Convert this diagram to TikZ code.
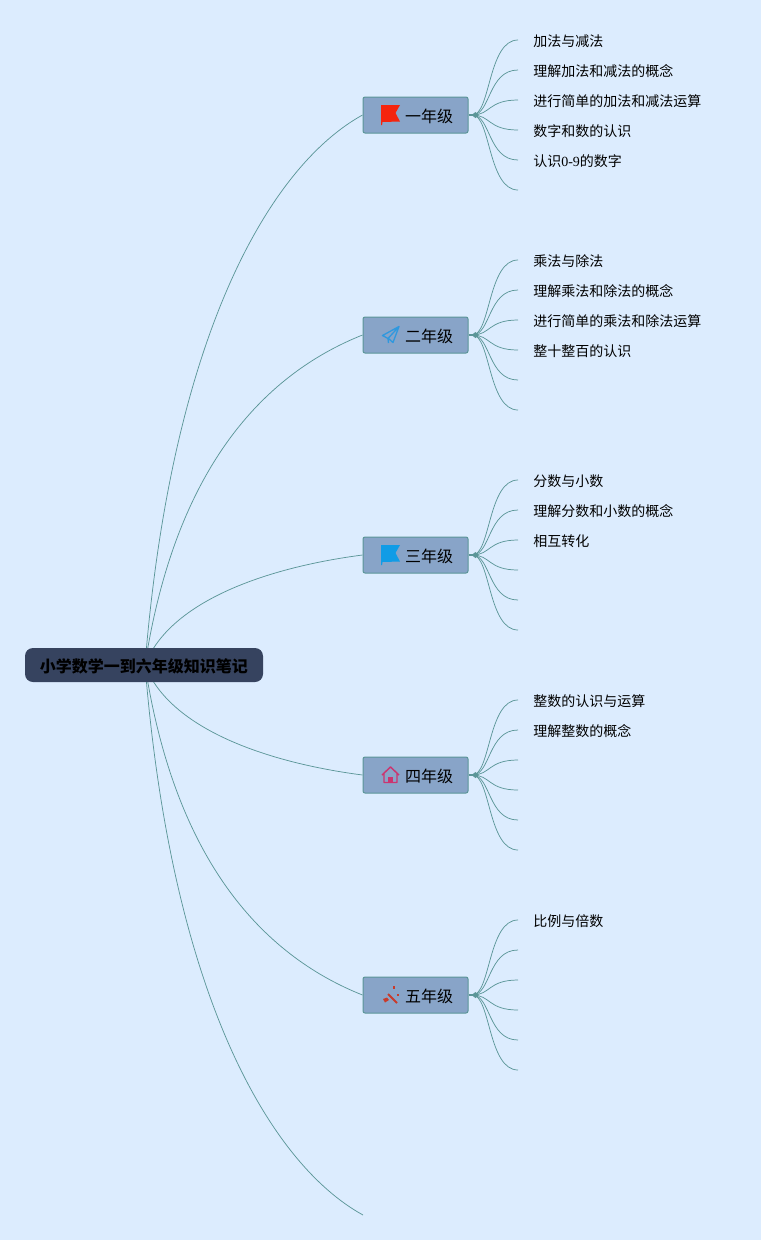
\documentclass[tikz,border=0pt]{standalone}
\usepackage{fontspec}
\setmainfont{Liberation Serif}
\newfontfamily\cjk{Noto Sans CJK SC}
\definecolor{bgc}{HTML}{DCECFE}
\definecolor{edgec}{HTML}{5B9698}
\definecolor{boxc}{HTML}{88A4C8}
\definecolor{rootc}{HTML}{36435F}
\definecolor{redf}{HTML}{F5240E}
\definecolor{bluef}{HTML}{109CE6}
\definecolor{planec}{HTML}{2F98DE}
\definecolor{housec}{HTML}{CB3570}
\definecolor{wandc}{HTML}{C83B2C}
\tikzset{
  px/.style={x=0.75pt,y=-0.75pt},
  link/.style={draw=edgec,line width=0.55pt},
  stub/.style={draw=edgec,line width=1.3pt},
  rootbox/.style={draw=none,fill=rootc,rounded corners=6pt,minimum width=178.5pt,minimum height=25.5pt,inner sep=0pt,text height=10.5pt,text depth=0pt,font=\fontsize{12}{14}\selectfont\cjk\bfseries,text=black},
  gradebox/.style={draw=edgec,line width=0.75pt,fill=boxc,rounded corners=1.5pt,minimum width=78.75pt,minimum height=27pt,inner sep=0pt,text height=10.5pt,text depth=0pt,font=\fontsize{12}{14}\selectfont\cjk,text=black},
  leaf/.style={anchor=west,inner sep=0pt,font=\fontsize{10.5}{12}\selectfont\cjk,text=black},
}
\newcommand{\gradetext}[1]{\hspace*{20.25pt}#1}
\newcommand{\flagicon}[3]{\fill[#3] (#1-9,#2-10) -- (#1+10,#2-10) -- (#1+5.5,#2-2) -- (#1+10,#2+6.5) -- (#1-7.5,#2+7) -- (#1-8,#2+10) -- (#1-9,#2+10) -- cycle;}
\newcommand{\branches}[2]{%
  \draw[stub] (#1.east) -- ++(7,0);
  \fill[edgec] (#1.east)++(3,0) -- ++(4,-3) -- ++(3,3) -- ++(-3,3) -- cycle;
  \foreach \k in {0,...,5}{
    \pgfmathsetmacro{\ey}{#2+\k*30}
    \coordinate (#1e\k) at (518,\ey);
    \draw[link] (#1.east)++(4,0) .. controls ($(#1.east)+(22,0)$) and (488,\ey) .. (#1e\k);
  }
}
\usetikzlibrary{calc}
\begin{document}
\begin{tikzpicture}[px]
\useasboundingbox (0,0) rectangle (761,1240);
\fill[bgc] (0,0) rectangle (761,1240);
\coordinate (hub) at (145,665);
\coordinate (g6) at (363,1215);
\path (415.5,115) coordinate (c1) (415.5,335) coordinate (c2) (415.5,555) coordinate (c3) (415.5,775) coordinate (c4) (415.5,995) coordinate (c5);
\node[gradebox] (g1) at (c1) {\gradetext{一年级}};
\node[gradebox] (g2) at (c2) {\gradetext{二年级}};
\node[gradebox] (g3) at (c3) {\gradetext{三年级}};
\node[gradebox] (g4) at (c4) {\gradetext{四年级}};
\node[gradebox] (g5) at (c5) {\gradetext{五年级}};
\draw[link] (hub) .. controls (172,330) and (272,165) .. (g1.west);
\draw[link] (hub) .. controls (175,470) and (262,375) .. (g2.west);
\draw[link] (hub) .. controls (170,600) and (270,567) .. (g3.west);
\draw[link] (hub) .. controls (170,730) and (270,763) .. (g4.west);
\draw[link] (hub) .. controls (175,860) and (262,955) .. (g5.west);
\draw[link] (hub) .. controls (172,1000) and (272,1165) .. (g6);
\node[rootbox] (root) at (144,665) {小学数学一到六年级知识笔记};
\branches{g1}{40}
\branches{g2}{260}
\branches{g3}{480}
\branches{g4}{700}
\branches{g5}{920}
\node[leaf] (a1) at (533,41) {加法与减法};
\node[leaf] (a2) at (533,71) {理解加法和减法的概念};
\node[leaf] (a3) at (533,101) {进行简单的加法和减法运算};
\node[leaf] (a4) at (533,131) {数字和数的认识};
\node[leaf] (a5) at (533,161) {认识{\rmfamily 0-9}的数字};
\node[leaf] (b1) at (533,261) {乘法与除法};
\node[leaf] (b2) at (533,291) {理解乘法和除法的概念};
\node[leaf] (b3) at (533,321) {进行简单的乘法和除法运算};
\node[leaf] (b4) at (533,351) {整十整百的认识};
\node[leaf] (c1t) at (533,481) {分数与小数};
\node[leaf] (c2t) at (533,511) {理解分数和小数的概念};
\node[leaf] (c3t) at (533,541) {相互转化};
\node[leaf] (d1) at (533,701) {整数的认识与运算};
\node[leaf] (d2) at (533,731) {理解整数的概念};
\node[leaf] (e1) at (533,921) {比例与倍数};
% icons
\flagicon{390}{115}{redf}
\flagicon{390}{555}{bluef}
\draw[planec,line width=1pt,line join=round] (399,326.5) -- (382.5,335.5) -- (388,338.5) -- cycle (388,338.5) -- (388.5,343) (388.5,338.5) -- (393,342.5) -- (399,326.5);
\draw[housec,line width=1.1pt,line join=round] (382,775) -- (390.5,767) -- (399,775) (384,773.5) -- (384,782.5) -- (397,782.5) -- (397,773.5);
\fill[housec] (388,777) rectangle (392.5,783);
\draw[wandc,line width=1.4pt] (388,994) -- (397,1003);
\fill[wandc] (383,999) -- (387,997.5) -- (389,1000) -- (385,1002.5) -- cycle;
\fill[wandc] (393,986) rectangle (395,989);
\fill[wandc] (397,993.5) rectangle (399,996);
\end{tikzpicture}
\end{document}
